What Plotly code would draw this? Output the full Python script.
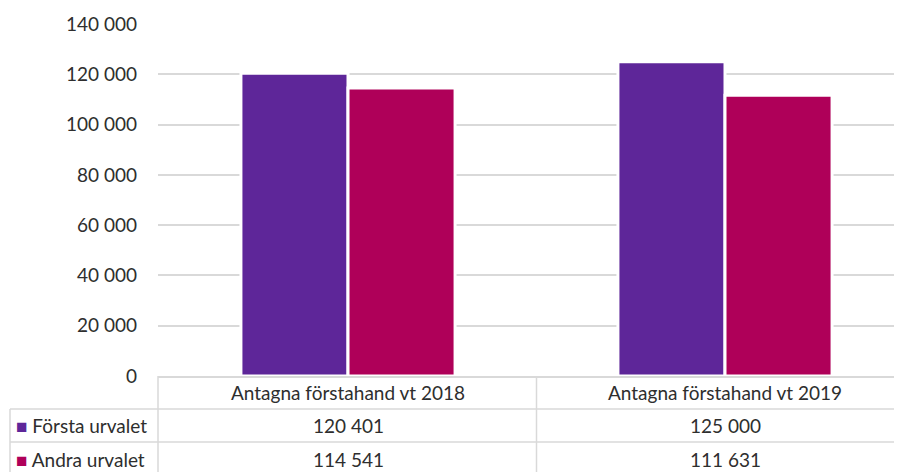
import plotly.graph_objects as go

categories = ["Antagna förstahand vt 2018", "Antagna förstahand vt 2019"]
series_names = ["Första urvalet", "Andra urvalet"]
forsta = [120401, 125000]
andra = [114541, 111631]
colors = ["#5E2699", "#AF0059"]
ytick_vals = [0, 20000, 40000, 60000, 80000, 100000, 120000, 140000]

FONT = "Lato"
TXT = "#2e2e2e"
GRID = "#d9d9d9"

OFF = 8  # page body margin
W, H = 902 - OFF, 472 - OFF
ML, MT = 158 - OFF, 24 - OFF
MR = 0
MB = H - (376 - OFF)
plot_w = W - ML - MR
plot_h = H - MT - MB
unit = 377.0
x_left = -0.5 - 1.5 / unit
x_right = x_left + (902 - 158) / unit

def py(p):
    # window pixel row -> paper y
    return (376 - p) / plot_h

def px(p):
    return (p - 158) / plot_w

xs = list(range(len(categories)))
values = [forsta, andra]

fig = go.Figure()
for name, vals, col in zip(series_names, values, colors):
    fig.add_trace(go.Bar(
        x=xs, y=vals, name=name,
        marker=dict(color=col, line=dict(color="white", width=3)),
        showlegend=False,
    ))

shapes = []
line = dict(color=GRID, width=1.5)
for yy in [409, 442]:
    shapes.append(dict(type="line", xref="paper", yref="paper",
                       x0=px(10), x1=1, y0=py(yy), y1=py(yy), line=line, layer="above"))
shapes.append(dict(type="line", xref="paper", yref="paper",
                   x0=0, x1=0, y0=0, y1=py(472), line=line))
shapes.append(dict(type="line", xref="paper", yref="paper",
                   x0=px(10), x1=px(10), y0=py(409), y1=py(472), line=line))
for i in range(len(categories) - 1):
    shapes.append(dict(type="line", xref="x", yref="paper",
                       x0=i + 0.5, x1=i + 0.5, y0=0, y1=py(472), line=line))

annotations = []
fs = 19
for i, c in enumerate(categories):
    annotations.append(dict(x=i, xref="x", y=py(392), yref="paper", text=c,
                            showarrow=False, font=dict(family=FONT, size=fs, color=TXT),
                            xanchor="center", yanchor="middle"))
row_y = [py(425), py(459)]
for r, (name, vals, col) in enumerate(zip(series_names, values, colors)):
    annotations.append(dict(x=px(14), xref="paper", y=row_y[r], yref="paper",
                            text=f'<span style="color:{col}">■</span> {name}',
                            showarrow=False, font=dict(family=FONT, size=fs, color=TXT),
                            xanchor="left", yanchor="middle"))
    for i, v in enumerate(vals):
        annotations.append(dict(x=i, xref="x", y=row_y[r], yref="paper",
                                text=f"{v:,}".replace(",", " "),
                                showarrow=False, font=dict(family=FONT, size=fs, color=TXT),
                                xanchor="center", yanchor="middle"))

fig.update_layout(
    width=W, height=H,
    margin=dict(l=ML, r=MR, t=MT, b=MB, pad=0),
    paper_bgcolor="white", plot_bgcolor="white",
    barmode="group", bargap=0.432, bargroupgap=0,
    separators=", ",
    shapes=shapes, annotations=annotations,
    font=dict(family=FONT, color=TXT),
    xaxis=dict(range=[x_left, x_right], showticklabels=False, showgrid=False,
               zeroline=False, showline=True, linecolor=GRID, linewidth=1.5,
               fixedrange=True),
    yaxis=dict(range=[0, 140000], tickvals=ytick_vals, tickformat=",d",
               showgrid=True, gridcolor=GRID, gridwidth=1.5, zeroline=False,
               showline=False, ticklabelstandoff=20,
               tickfont=dict(family=FONT, size=fs, color=TXT)),
)

fig.write_html("out.html")
